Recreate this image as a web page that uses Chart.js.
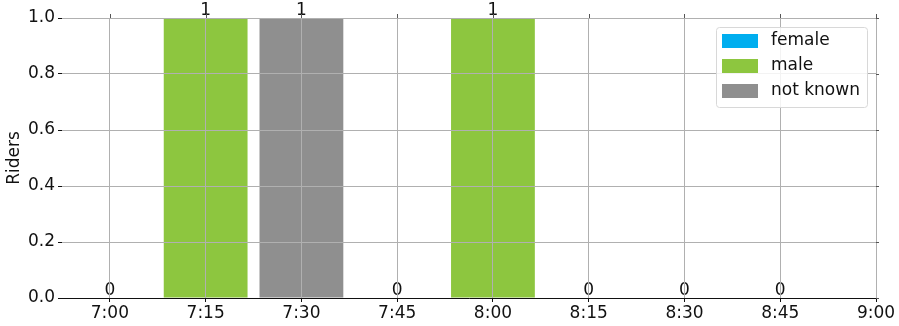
<!DOCTYPE html>
<html>
<head>
<meta charset="utf-8">
<script src="https://cdn.jsdelivr.net/npm/chart.js@4/dist/chart.umd.min.js"></script>
<style>
  html, body { margin: 0; padding: 0; background: #fff; }
  #wrap { width: 899px; height: 326px; }
</style>
</head>
<body>
<div id="wrap"><canvas id="ridersChart"></canvas></div>
<script>
// tick labels on the time axis (last one is the axis end)
const timeLabels = ['7:00', '7:15', '7:30', '7:45', '8:00', '8:15', '8:30', '8:45', '9:00'];
// one bar per quarter hour, 7:00 .. 8:45
const femaleRiders = [0, 0, 0, 0, 0, 0, 0, 0];
const maleRiders = [0, 1, 0, 0, 1, 0, 0, 0];
const unknownRiders = [0, 0, 1, 0, 0, 0, 0, 0];
const yTicks = [0, 0.2, 0.4, 0.6, 0.8, 1.0];

const FONT = 'DejaVu Sans';
const FSIZE = 17;
const ink = '#111';
const gridGray = '#b0b0b0';

const toPoints = arr => arr.map((v, i) => ({ x: i, y: v }));

// totals written above each stack
const totalsPlugin = {
    id: 'totals',
    afterDatasetsDraw(chart) {
        const { ctx, scales: { x, y } } = chart;
        ctx.save();
        ctx.font = FSIZE + 'px "' + FONT + '"';
        ctx.fillStyle = ink;
        ctx.textAlign = 'center';
        ctx.textBaseline = 'alphabetic';
        for (let i = 0; i < femaleRiders.length; i++) {
            const total = femaleRiders[i] + maleRiders[i] + unknownRiders[i];
            ctx.fillText(String(total), x.getPixelForValue(i), y.getPixelForValue(total) - 3);
        }
        ctx.restore();
    }
};

// small outward ticks on top and right edges, plus the legend box
const framePlugin = {
    id: 'frame',
    afterDraw(chart) {
        const { ctx, chartArea: a, scales: { x, y } } = chart;
        ctx.save();
        ctx.strokeStyle = '#555';
        ctx.lineWidth = 1;
        ctx.beginPath();
        x.ticks.forEach(t => {
            const px = Math.round(x.getPixelForValue(t.value)) + 0.5;
            ctx.moveTo(px, a.top); ctx.lineTo(px, a.top - 4);
        });
        y.ticks.forEach(t => {
            const py = Math.round(y.getPixelForValue(t.value)) + 0.5;
            ctx.moveTo(a.right, py); ctx.lineTo(a.right + 3, py);
        });
        ctx.stroke();

        // legend
        const lx = 716, ly = 27, lw = 151, lh = 80;
        ctx.fillStyle = 'rgba(255,255,255,0.85)';
        ctx.strokeStyle = '#d8d8d8';
        ctx.beginPath();
        ctx.roundRect(lx + 0.5, ly + 0.5, lw, lh, 3);
        ctx.fill();
        ctx.stroke();
        ctx.font = FSIZE + 'px "' + FONT + '"';
        ctx.textBaseline = 'middle';
        ctx.textAlign = 'left';
        chart.data.datasets.forEach((ds, i) => {
            const cy = 41 + i * 25;
            ctx.fillStyle = ds.backgroundColor;
            ctx.fillRect(722, cy - 7, 36, 14);
            ctx.fillStyle = ink;
            ctx.fillText(ds.label, 771, cy);
        });
        ctx.restore();
    }
};

const ctx = document.getElementById('ridersChart').getContext('2d');
new Chart(ctx, {
    type: 'bar',
    data: {
        datasets: [
            { label: 'female', data: toPoints(femaleRiders), backgroundColor: '#00aeef', borderWidth: 0 },
            { label: 'male', data: toPoints(maleRiders), backgroundColor: '#8dc63f', borderWidth: 0 },
            { label: 'not known', data: toPoints(unknownRiders), backgroundColor: '#8f8f8f', borderWidth: 0 }
        ]
    },
    options: {
        responsive: true,
        maintainAspectRatio: false,
        animation: false,
        layout: { padding: { top: 18, right: 23, left: 0, bottom: 0 } },
        categoryPercentage: 1,
        barPercentage: 0.875,
        plugins: {
            legend: { display: false },
            tooltip: { enabled: false }
        },
        scales: {
            x: {
                type: 'linear',
                stacked: true,
                min: -0.5,
                max: timeLabels.length - 1,
                offset: false,
                afterBuildTicks: s => { s.ticks = timeLabels.map((_, i) => ({ value: i })); },
                afterFit: s => { s.height = 28; },
                grid: { z: 1, offset: false, color: gridGray, lineWidth: 1, drawTicks: true, tickLength: 4, tickColor: ink },
                border: { z: 2, display: true, color: ink, width: 1 },
                ticks: {
                    z: 2,
                    autoSkip: false,
                    maxRotation: 0,
                    padding: 1,
                    color: ink,
                    font: { family: FONT, size: FSIZE },
                    callback: v => timeLabels[v]
                }
            },
            y: {
                stacked: true,
                min: 0,
                max: 1,
                afterBuildTicks: s => { s.ticks = yTicks.map(v => ({ value: v })); },
                afterFit: s => { s.width = 62; },
                grid: { z: 1, color: gridGray, lineWidth: 1, drawTicks: true, tickLength: 4, tickColor: ink },
                border: { display: false },
                title: {
                    display: true,
                    text: 'Riders',
                    color: ink,
                    font: { family: FONT, size: FSIZE },
                    padding: { top: 4, bottom: 0 }
                },
                ticks: {
                    padding: 3,
                    color: ink,
                    font: { family: FONT, size: FSIZE },
                    callback: v => v.toFixed(1)
                }
            }
        }
    },
    plugins: [totalsPlugin, framePlugin]
});
</script>
</body>
</html>
